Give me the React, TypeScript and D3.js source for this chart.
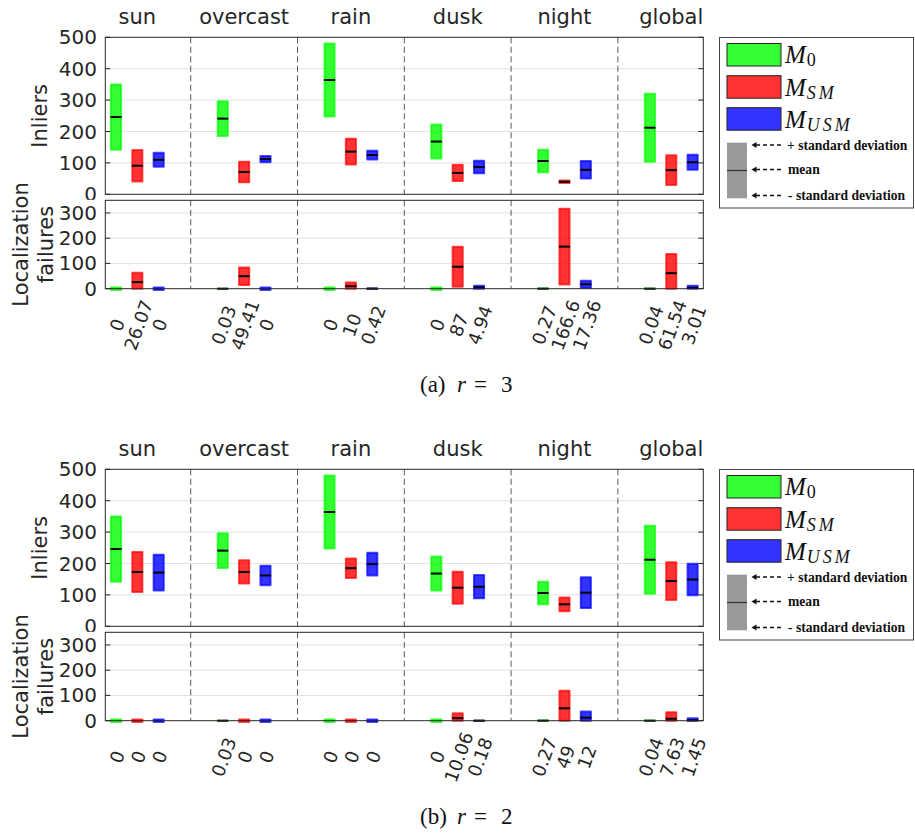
import React from 'react';
import * as d3 from 'd3';

// ---------- data ----------
const categories = ['sun', 'overcast', 'rain', 'dusk', 'night', 'global'];
const methodColors = ['#00ff00', '#ff0000', '#0000ff'];
const inlierTicks = [0, 100, 200, 300, 400, 500];
const failureTicks = [0, 100, 200, 300];

// Inliers (mean, std) — M0 is identical for r=3 and r=2
const inliersMeanM0 = [246, 241, 364, 168, 106, 212];
const inliersSdM0 = [104, 55, 116, 54, 36, 108];

const inliersMeanSM_r3 = [91, 71, 136, 68, 40, 77];
const inliersSdSM_r3 = [50, 33, 41, 26, 4, 47];
const inliersMeanUSM_r3 = [110, 112, 125, 87, 78, 102];
const inliersSdUSM_r3 = [22, 10, 14, 20, 28, 24];

const inliersMeanSM_r2 = [173, 173, 185, 123, 70, 144];
const inliersSdSM_r2 = [64, 37, 31, 51, 22, 60];
const inliersMeanUSM_r2 = [171, 162, 198, 126, 107, 149];
const inliersSdUSM_r2 = [57, 31, 36, 37, 49, 50];

// Localization failures (mean, std)
const failMeanM0 = [0, 0.03, 0, 0, 0.27, 0.04];
const failSdM0 = [0, 0.2, 0, 0, 0.8, 0.3];

const failMeanSM_r3 = [26.07, 49.41, 10, 87, 166.6, 61.54];
const failSdSM_r3 = [37, 35, 15, 79, 150, 76];
const failMeanUSM_r3 = [0, 0, 0.42, 4.94, 17.36, 3.01];
const failSdUSM_r3 = [0, 0, 0.2, 7, 14, 9];

const failMeanSM_r2 = [0, 0, 0, 10.06, 49, 7.63];
const failSdSM_r2 = [0, 0, 0, 19, 70, 26];
const failMeanUSM_r2 = [0, 0, 0, 0.18, 12, 1.45];
const failSdUSM_r2 = [0, 0, 0, 0.1, 24, 8];

type PanelData = {
  inMean: number[][];
  inSd: number[][];
  fMean: number[][];
  fSd: number[][];
  tag: string;
  r: string;
};

const panels: PanelData[] = [
  {
    inMean: [inliersMeanM0, inliersMeanSM_r3, inliersMeanUSM_r3],
    inSd: [inliersSdM0, inliersSdSM_r3, inliersSdUSM_r3],
    fMean: [failMeanM0, failMeanSM_r3, failMeanUSM_r3],
    fSd: [failSdM0, failSdSM_r3, failSdUSM_r3],
    tag: '(a)',
    r: '3',
  },
  {
    inMean: [inliersMeanM0, inliersMeanSM_r2, inliersMeanUSM_r2],
    inSd: [inliersSdM0, inliersSdSM_r2, inliersSdUSM_r2],
    fMean: [failMeanM0, failMeanSM_r2, failMeanUSM_r2],
    fSd: [failSdM0, failSdSM_r2, failSdUSM_r2],
    tag: '(b)',
    r: '2',
  },
];

// ---------- layout ----------
const W = 915;
const H = 834;
const X0 = 105.3;
const X1 = 703.3;
const IN_TOP = 37.3;
const IN_BOT = 194.3;
const F_TOP = 200.3;
const F_BOT = 288.7;
const AXIS = '#262626';
const SANS = 'DejaVu Sans, sans-serif';
const SERIF = 'Liberation Serif, Times New Roman, serif';

const x = d3.scaleLinear().domain([0.7, 6.3]).range([X0, X1]);
const yIn = d3.scaleLinear().domain([0, 500]).range([IN_BOT, IN_TOP]);
const yF = d3.scaleLinear().domain([0, 350]).range([F_BOT, F_TOP]);
const BOX_W = x(0.095) - x(0);
const OFFS = [-0.2, 0, 0.2];

function Boxes({ means, sds, y }: { means: number[][]; sds: number[][]; y: d3.ScaleLinear<number, number> }) {
  const out: React.ReactNode[] = [];
  means.forEach((arr, k) => {
    arr.forEach((m, i) => {
      const cx = x(i + 1 + OFFS[k]);
      const sd = sds[k][i];
      const col = methodColors[k];
      if (m === 0 && sd === 0) {
        out.push(
          <rect key={`z${k}-${i}`} x={cx - BOX_W / 2} y={y(0) - 1.3} width={BOX_W} height={2.6}
            fill={col} fillOpacity={0.8} stroke={col} strokeOpacity={0.7} strokeWidth={2} strokeLinejoin="round" />
        );
        return;
      }
      const top = y(m + sd);
      const bot = y(Math.max(0, m - sd));
      out.push(
        <rect key={`b${k}-${i}`} x={cx - BOX_W / 2} y={top} width={BOX_W} height={Math.max(0, bot - top)}
          fill={col} fillOpacity={0.8} stroke={col} strokeOpacity={0.7} strokeWidth={2} strokeLinejoin="round" />
      );
      out.push(
        <line key={`m${k}-${i}`} x1={cx - BOX_W / 2 - 0.5} x2={cx + BOX_W / 2 + 0.5} y1={y(m)} y2={y(m)}
          stroke="#000" strokeWidth={2} />
      );
    });
  });
  return <g>{out}</g>;
}

function Frame({ y, ticks, top, bot }: { y: d3.ScaleLinear<number, number>; ticks: number[]; top: number; bot: number }) {
  return (
    <g>
      <rect x={X0} y={top} width={X1 - X0} height={bot - top} fill="#fff" />
      {ticks.filter((t) => t > 0 && y(t) > top + 1).map((t) => (
        <line key={`g${t}`} x1={X0} x2={X1} y1={y(t)} y2={y(t)} stroke="#e2e2e2" strokeWidth={1} />
      ))}
      {d3.range(1, categories.length).map((i) => (
        <line key={`s${i}`} x1={x(i + 0.5)} x2={x(i + 0.5)} y1={top} y2={bot} stroke="#5a5a5a" strokeWidth={1} strokeDasharray="6,3.5" />
      ))}
    </g>
  );
}

function FrameBorder({ y, ticks, top, bot }: { y: d3.ScaleLinear<number, number>; ticks: number[]; top: number; bot: number }) {
  return (
    <g>
      <rect x={X0} y={top} width={X1 - X0} height={bot - top} fill="none" stroke={AXIS} strokeWidth={1} />
      {ticks.map((t) => (
        <g key={`t${t}`}>
          <line x1={X0} x2={X0 + 5} y1={y(t)} y2={y(t)} stroke={AXIS} />
          <line x1={X1 - 5} x2={X1} y1={y(t)} y2={y(t)} stroke={AXIS} />
          <text x={97} y={y(t)} textAnchor="end" dominantBaseline="central" fontFamily={SANS} fontSize={20} fill={AXIS}>
            {t}
          </text>
        </g>
      ))}
    </g>
  );
}

function Legend() {
  const names = [
    { main: 'M', sub: '0', subItalic: false },
    { main: 'M', sub: 'SM', subItalic: true },
    { main: 'M', sub: 'USM', subItalic: true },
  ];
  const sw = [43.5, 75.7, 107.7];
  const fills = ['#33ff33', '#ff3333', '#3333ff'];
  const rows = [
    { y: 145, dashEnd: 782, text: '+ standard deviation', tx: 787 },
    { y: 169.5, dashEnd: 782, text: 'mean', tx: 788 },
    { y: 195.5, dashEnd: 783, text: '- standard deviation', tx: 788 },
  ];
  return (
    <g>
      <rect x={719.5} y={37.5} width={194} height={170.5} fill="#fff" stroke="#444" strokeWidth={1} />
      {names.map((n, i) => (
        <g key={i}>
          <rect x={727} y={sw[i]} width={54} height={22.5} fill={fills[i]} stroke="#222" strokeWidth={1} />
          <text x={785} y={sw[i] + 19.8} fontFamily={SERIF} fontSize={25} fontStyle="italic" fill="#111">
            {n.main}
            <tspan dx={1} dy={3} fontSize={18} fontStyle={n.subItalic ? 'italic' : 'normal'} letterSpacing={n.subItalic ? 3 : 0}>
              {n.sub}
            </tspan>
          </text>
        </g>
      ))}
      <rect x={727} y={142.7} width={20} height={55.6} fill="#9a9a9a" />
      <line x1={727} x2={747} y1={170.5} y2={170.5} stroke="#333" strokeWidth={1.2} />
      {rows.map((r, i) => (
        <g key={i}>
          <path d={`M751.5,${r.y} l5,-3 v6 z`} fill="#111" />
          <line x1={756} x2={r.dashEnd} y1={r.y} y2={r.y} stroke="#111" strokeWidth={1.6} strokeDasharray="4,3" />
          <text x={r.tx} y={r.y + 4.5} fontFamily={SERIF} fontWeight="bold" fontSize={13.6} fill="#111">
            {r.text}
          </text>
        </g>
      ))}
    </g>
  );
}

function Panel({ p, dy }: { p: PanelData; dy: number }) {
  return (
    <g transform={`translate(0,${dy})`}>
      {categories.map((c, i) => (
        <text key={c} x={x(i + 1)} y={24} textAnchor="middle" fontFamily={SANS} fontSize={21} fill={AXIS}>
          {c}
        </text>
      ))}
      <Frame y={yIn} ticks={inlierTicks} top={IN_TOP} bot={IN_BOT} />
      <Boxes means={p.inMean} sds={p.inSd} y={yIn} />
      <FrameBorder y={yIn} ticks={inlierTicks} top={IN_TOP} bot={IN_BOT} />
      <text transform={`translate(46.5,${(IN_TOP + IN_BOT) / 2}) rotate(-90)`} textAnchor="middle" fontFamily={SANS} fontSize={21} fill={AXIS}>
        Inliers
      </text>

      {/* failures subplot overlays the inliers' lowest label */}
      <rect x={50} y={F_TOP - 0.5} width={X1 - 50 + 1} height={F_BOT - F_TOP + 1} fill="#fff" />
      <Frame y={yF} ticks={failureTicks} top={F_TOP} bot={F_BOT} />
      <Boxes means={p.fMean} sds={p.fSd} y={yF} />
      <FrameBorder y={yF} ticks={failureTicks} top={F_TOP} bot={F_BOT} />
      <text transform={`translate(28,${(F_TOP + F_BOT) / 2}) rotate(-90)`} textAnchor="middle" fontFamily={SANS} fontSize={21} fill={AXIS}>
        Localization
      </text>
      <text transform={`translate(53,${(F_TOP + F_BOT) / 2}) rotate(-90)`} textAnchor="middle" fontFamily={SANS} fontSize={21} fill={AXIS}>
        failures
      </text>

      {p.fMean.map((arr, k) =>
        arr.map((m, i) => (
          <text key={`l${k}-${i}`} transform={`translate(${x(i + 1 + OFFS[k]) + 1},325) rotate(-70)`}
            textAnchor="middle" dominantBaseline="central" fontFamily={SANS} fontSize={18} fill={AXIS}>
            {String(m)}
          </text>
        ))
      )}

      <Legend />

      <text y={391.7} fontFamily={SERIF} fontSize={23} fill="#111">
        <tspan x={420}>{p.tag}</tspan>
        <tspan x={457} fontStyle="italic">r</tspan>
        <tspan x={474}>=</tspan>
        <tspan x={501}>{p.r}</tspan>
      </text>
    </g>
  );
}

export default function App() {
  return (
    <svg width={W} height={H} viewBox={`0 0 ${W} ${H}`} style={{ position: 'absolute', left: 0, top: 0, background: '#fff' }}>
      <rect width={W} height={H} fill="#fff" />
      {panels.map((p, i) => (
        <Panel key={p.tag} p={p} dy={i * 432} />
      ))}
    </svg>
  );
}
